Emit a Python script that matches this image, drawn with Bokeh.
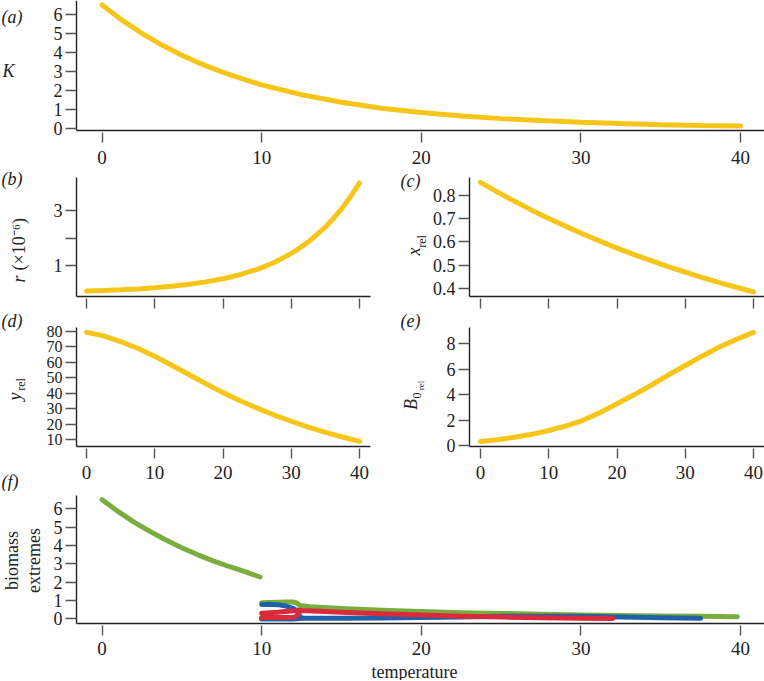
from math import pi
from bokeh.plotting import figure
from bokeh.layouts import column, row
from bokeh.models import Label, FixedTicker, Range1d
from bokeh.embed import file_html
from bokeh.resources import INLINE

SERIF = "Liberation Serif"
AX = "#222222"
TK = "#555555"
YEL = "#F5C619"
GRN = "#79AD3E"
BLU = "#2161A8"
RED = "#D92B3B"

# ---------------- data ----------------
temp_ticks = [0, 10, 20, 30, 40]
temp = [0, 2.5, 5, 7.5, 10, 12.5, 15, 17.5, 20, 22.5, 25, 27.5, 30, 32.5, 35, 37.5, 40]

K_T = [0, 1.25, 2.5, 3.75, 5, 6.25, 7.5, 8.75, 10, 12.5, 15, 17.5, 20, 22.5, 25, 27.5, 30, 32.5, 35, 37.5, 40]
K_val = [6.50, 5.70, 5.01, 4.39, 3.86, 3.39, 2.98, 2.62, 2.30, 1.78, 1.38, 1.07, 0.84, 0.66, 0.52, 0.42,
         0.33, 0.26, 0.20, 0.16, 0.13]
r_T = [0, 2.5, 5, 7.5, 10, 12.5, 15, 17.5, 20, 22.5, 25, 26.25, 27.5, 28.75, 30, 31.25, 32.5, 33.75,
       35, 36.25, 37.5, 38.75, 40]
r_val = [0.07, 0.09, 0.115, 0.15, 0.195, 0.245, 0.315, 0.405, 0.52, 0.67, 0.86, 0.98, 1.11, 1.27, 1.44,
         1.64, 1.86, 2.12, 2.40, 2.73, 3.10, 3.53, 4.00]
xrel_val = [0.857, 0.815, 0.775, 0.737, 0.701, 0.667, 0.634, 0.603, 0.573, 0.545, 0.519, 0.493, 0.469, 0.446, 0.424, 0.404, 0.384]
yrel_val = [79.5, 77.2, 73.5, 69.2, 64.0, 58.2, 52.2, 46.2, 40.5, 35.2, 30.5, 26.0, 22.0, 18.2, 14.8, 11.8, 9.0]
B0rel_val = [0.34, 0.48, 0.67, 0.90, 1.20, 1.55, 2.00, 2.60, 3.30, 4.00, 4.75, 5.55, 6.30, 7.05, 7.75, 8.35, 8.90]

K_ticks = [0, 1, 2, 3, 4, 5, 6]
r_ticks = [1, 2, 3]
xrel_ticks = [0.4, 0.5, 0.6, 0.7, 0.8]
yrel_ticks = [10, 20, 30, 40, 50, 60, 70, 80]
B0_ticks = [0, 2, 4, 6, 8]
bio_ticks = [0, 1, 2, 3, 4, 5, 6]

# (f) biomass extremes
g1_T = [0, 1, 2, 3, 4, 5, 6, 7, 8, 9, 9.9]
g1_v = [6.50, 5.86, 5.28, 4.77, 4.30, 3.88, 3.49, 3.15, 2.84, 2.56, 2.28]
g2_T = [10, 10.5, 11, 11.5, 12, 12.2, 12.4, 13, 15, 17.5, 20, 22.5, 25, 27.5, 30, 32.5, 35, 37.5, 39.8]
g2_v = [0.88, 0.89, 0.90, 0.91, 0.91, 0.86, 0.72, 0.66, 0.56, 0.46, 0.39, 0.33, 0.29, 0.25, 0.21, 0.18, 0.15, 0.13, 0.11]
bh_T = [10, 10.5, 11, 11.5, 12, 12.2, 12.35, 12.5, 15, 17.5, 20, 22.5, 25, 27.5, 30, 32.5, 35, 37.5]
bh_v = [0.78, 0.79, 0.77, 0.70, 0.55, 0.45, 0.20, 0.03, 0.03, 0.04, 0.07, 0.10, 0.13, 0.14, 0.13, 0.10, 0.06, 0.02]
bl_T = [10, 11, 12, 12.5]
bl_v = [-0.02, -0.02, -0.01, 0.03]
rh_T = [10, 10.5, 11, 11.5, 12, 12.3, 12.5, 15, 17.5, 20, 22.5, 25, 27.5, 30, 32]
rh_v = [0.30, 0.33, 0.36, 0.40, 0.44, 0.47, 0.45, 0.36, 0.27, 0.20, 0.14, 0.09, 0.06, 0.03, 0.01]
rl_T = [10, 11, 12, 12.2, 12.35, 12.5]
rl_v = [0.07, 0.07, 0.08, 0.15, 0.35, 0.45]


# ---------------- helpers ----------------
def ext(c0, c1, b0, b1, v0, v1):
    """value range covering canvas pixels c0..c1, given box pixels b0..b1 -> v0..v1"""
    s = (v1 - v0) / (b1 - b0)
    return v0 + (c0 - b0) * s, v0 + (c1 - b0) * s


ORIGIN = {}


def panel(canvas, box_px, box_val, yticks, xlabels=True, ysize="18px", yover=None, xstand=4):
    cx0, cx1, cy0, cy1 = canvas
    bx0, bx1, by0, by1 = box_px
    xv0, xv1, yv0, yv1 = box_val          # yv0 = value at box top, yv1 = at box bottom
    xs = ext(cx0, cx1, bx0, bx1, xv0, xv1)
    ys = ext(cy0, cy1, by0, by1, yv0, yv1)
    p = figure(width=cx1 - cx0, height=cy1 - cy0,
               x_range=Range1d(xs[0], xs[1]), y_range=Range1d(ys[1], ys[0]),
               output_backend="svg", toolbar_location=None, tools="",
               title_location=None, min_border=0)
    p.outline_line_color = None
    p.xgrid.visible = False
    p.ygrid.visible = False
    p.background_fill_color = "white"
    p.border_fill_color = "white"
    p.xaxis.fixed_location = yv1
    p.xaxis.bounds = (xv0, xv1)
    p.yaxis.fixed_location = xv0
    p.yaxis.bounds = (yv1, yv0)
    for ax in (p.xaxis[0], p.yaxis[0]):
        ax.axis_line_color = AX
        ax.axis_line_width = 1.4
        ax.major_tick_line_color = TK
        ax.major_tick_line_width = 1.4
        ax.minor_tick_line_color = None
        ax.major_label_text_font = SERIF
        ax.major_label_text_color = "#222222"
    p.yaxis.major_tick_in = 0
    p.yaxis.major_tick_out = 11
    p.xaxis.major_tick_in = -2
    p.xaxis.major_tick_out = 12
    p.xaxis.ticker = FixedTicker(ticks=temp_ticks)
    p.yaxis.ticker = FixedTicker(ticks=yticks)
    p.yaxis.major_label_text_font_size = ysize
    p.yaxis.major_label_standoff = 3
    p.xaxis.major_label_text_font_size = "19px"
    p.xaxis.major_label_standoff = xstand
    if not xlabels:
        p.xaxis.major_label_overrides = {t: "" for t in temp_ticks}
    if yover:
        p.yaxis.major_label_overrides = yover
    ORIGIN[p.id] = (cx0, cy1)
    return p


def lab(p, text, X, Y, size="18px", fstyle="normal", angle=0, align="left"):
    cx0, cy1 = ORIGIN[p.id]
    p.add_layout(Label(x=X - cx0, y=cy1 - Y, x_units="screen", y_units="screen", text=text,
                       text_font=SERIF, text_font_size=size, text_font_style=fstyle,
                       angle=angle, text_align=align, text_baseline="middle",
                       text_color="#222222"))


# ---------------- (a) ----------------
pa = panel((0, 764, 0, 168), (76, 765.6, 0, 130), (-1.6, 41.6, 6.737, -0.105), K_ticks, xstand=8)
pa.line(K_T, K_val, line_color=YEL, line_width=5, line_cap="round")
lab(pa, "(a)", 1, 16, fstyle="italic")
lab(pa, "K", 8, 70, fstyle="italic", align="center")

# ---------------- (b) ----------------
pb = panel((0, 382, 168, 310), (76, 370, 177, 296), (-1.465, 41.61, 4.2, -0.127), r_ticks,
           xlabels=False, yover={2: ""})
pb.line(r_T, r_val, line_color=YEL, line_width=5, line_cap="round")
lab(pb, "(b)", 1, 178, fstyle="italic")
lab(pb, "r", 18, 282, fstyle="italic", angle=pi / 2)
lab(pb, "(×10⁻⁶)", 18, 270, angle=pi / 2)

# ---------------- (c) ----------------
pc = panel((382, 764, 168, 310), (469, 764, 177, 296), (-1.61, 41.61, 0.878, 0.364), xrel_ticks,
           xlabels=False)
pc.line(temp, xrel_val, line_color=YEL, line_width=5, line_cap="round")
lab(pc, "(c)", 400, 180, fstyle="italic")
lab(pc, "x", 413, 251, fstyle="italic", angle=pi / 2, align="center")
lab(pc, "rel", 421, 241, size="12px", angle=pi / 2, align="center")

# ---------------- (d) ----------------
pd_ = panel((0, 382, 310, 491), (76, 370, 327, 446), (-1.465, 41.61, 82.6, 5.67), yrel_ticks,
            ysize="16px", xstand=7)
pd_.line(temp, yrel_val, line_color=YEL, line_width=5, line_cap="round")
lab(pd_, "(d)", 1, 320, fstyle="italic")
lab(pd_, "y", 14, 396, fstyle="italic", angle=pi / 2, align="center")
lab(pd_, "rel", 20, 384, size="12px", angle=pi / 2, align="center")
lab(pd_, "(f)", 1, 481, fstyle="italic")

# ---------------- (e) ----------------
pe = panel((382, 764, 310, 491), (469, 764, 327, 446), (-1.61, 41.61, 9.28, -0.055), B0_ticks,
           xstand=7)
pe.line(temp, B0rel_val, line_color=YEL, line_width=5, line_cap="round")
lab(pe, "(e)", 400, 320, fstyle="italic")
lab(pe, "B", 410, 404, fstyle="italic", angle=pi / 2, align="center")
lab(pe, "0", 416, 395, size="12px", angle=pi / 2, align="center")
lab(pe, "rel", 420, 385, size="9px", angle=pi / 2, align="center")

# ---------------- (f) ----------------
pf = panel((0, 764, 491, 680), (76, 765.6, 495, 623), (-1.6, 41.6, 6.73, -0.26), bio_ticks, xstand=6)
for xs_, ys_, col in [(g1_T, g1_v, GRN), (g2_T, g2_v, GRN),
                      (bh_T, bh_v, BLU), (bl_T, bl_v, BLU),
                      (rh_T, rh_v, RED), (rl_T, rl_v, RED)]:
    pf.line(xs_, ys_, line_color=col, line_width=5, line_cap="round", line_join="round")
lab(pf, "biomass", 11, 560, angle=pi / 2, align="center")
lab(pf, "extremes", 33, 560, angle=pi / 2, align="center")
lab(pf, "temperature", 414, 671, align="center")

layout = column(pa, row(pb, pc), row(pd_, pe), pf)
open("out.html", "w").write(file_html(layout, INLINE))
